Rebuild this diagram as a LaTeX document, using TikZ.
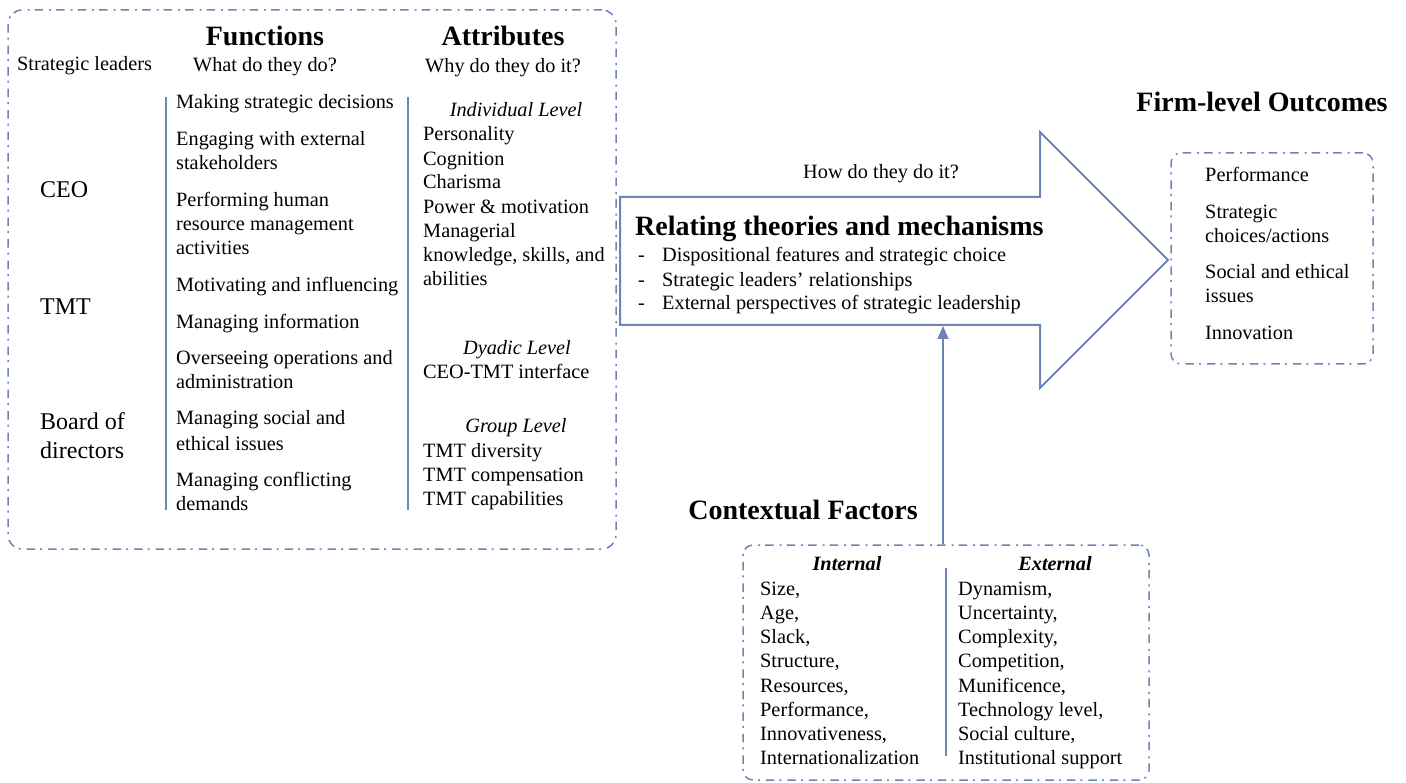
\documentclass[tikz,border=0pt]{standalone}
\usepackage{fontspec}
\setmainfont{Liberation Serif}
\usetikzlibrary{arrows.meta}
\definecolor{lineblue}{RGB}{110,132,182}
\tikzset{
  dashdot/.style={draw=lineblue, line width=1.5pt, dash pattern=on 8.5pt off 5pt on 2pt off 6pt},
  dbox/.style={dashdot, rounded corners=14pt, inner sep=0pt},
  txt/.style={anchor=base west, inner sep=0pt, font=\fontsize{20.3}{24}\selectfont},
  ctxt/.style={anchor=base, inner sep=0pt, font=\fontsize{20.3}{24}\selectfont},
  itl/.style={anchor=base, inner sep=0pt, font=\fontsize{20.3}{24}\selectfont\itshape},
  bitl/.style={anchor=base, inner sep=0pt, font=\fontsize{20.3}{24}\selectfont\bfseries\itshape},
  ldr/.style={anchor=base west, inner sep=0pt, font=\fontsize{24}{28}\selectfont},
  ttl/.style={anchor=base, inner sep=0pt, font=\fontsize{28}{32}\selectfont\bfseries},
  sep/.style={draw=lineblue, line width=1.2pt},
  arr/.style={draw=lineblue, line width=2pt, line join=miter},
}
\begin{document}
\begin{tikzpicture}[x=1pt,y=-1pt]
\useasboundingbox (0,0) rectangle (1406,783);
% ---- left big box
\node[dbox, minimum width=608pt, minimum height=539pt] (leftbox) at (312,279.5) {};
\node[ttl] (fun) at (265,46) {Functions};
\node[ttl] (att) at (503,46) {Attributes};
\node[txt] (sl) at (17,71) {Strategic leaders};
\node[ctxt] (wdo) at (265,72) {What do they do?};
\node[ctxt] (why) at (503,73) {Why do they do it?};
\draw[sep] (166,97) coordinate (s1a) -- (166,510) coordinate (s1b);
\draw[sep] (408,97) coordinate (s2a) -- (408,510) coordinate (s2b);
% leaders
\node[ldr] (ceo) at (40,198) {CEO};
\node[ldr] (tmt) at (40,315) {TMT};
\node[ldr] (bod1) at (40,430) {Board of};
\node[ldr] (bod2) at (40,459) {directors};
% functions
\node[txt] (f1) at (176,109) {Making strategic decisions};
\node[txt] (f2a) at (176,146) {Engaging with external};
\node[txt] (f2b) at (176,170) {stakeholders};
\node[txt] (f3a) at (176,207) {Performing human};
\node[txt] (f3b) at (176,231) {resource management};
\node[txt] (f3c) at (176,255) {activities};
\node[txt] (f4) at (176,292) {Motivating and influencing};
\node[txt] (f5) at (176,329) {Managing information};
\node[txt] (f6a) at (176,365) {Overseeing operations and};
\node[txt] (f6b) at (176,389) {administration};
\node[txt] (f7a) at (176,425) {Managing social and};
\node[txt] (f7b) at (176,450) {ethical issues};
\node[txt] (f8a) at (176,486) {Managing conflicting};
\node[txt] (f8b) at (176,510) {demands};
% attributes
\node[itl] (il) at (516,117) {Individual Level};
\node[txt] (a1) at (423,141) {Personality};
\node[txt] (a2) at (423,166) {Cognition};
\node[txt] (a3) at (423,189) {Charisma};
\node[txt] (a4) at (423,214) {Power \& motivation};
\node[txt] (a5) at (423,238) {Managerial};
\node[txt] (a6) at (423,262) {knowledge, skills, and};
\node[txt] (a7) at (423,286) {abilities};
\node[itl] (dl) at (517,355) {Dyadic Level};
\node[txt] (a8) at (423,379) {CEO-TMT interface};
\node[itl] (gl) at (516,433) {Group Level};
\node[txt] (a9) at (423,457) {TMT diversity};
\node[txt] (a10) at (423,481) {TMT compensation};
\node[txt] (a11) at (423,505) {TMT capabilities};
% ---- block arrow
\draw[arr] (620,197) -- (1040,197) -- (1040,132) -- (1168,260) -- (1040,388) -- (1040,325) -- (620,325) -- cycle;
\coordinate (arrbot) at (943,326);
\node[ctxt] (how) at (881,179) {How do they do it?};
\node[ttl, anchor=base west] (rel) at (635,236) {Relating theories and mechanisms};
\node[txt] (d1) at (638,262) {-};
\node[txt] (m1) at (662,262) {Dispositional features and strategic choice};
\node[txt] (d2) at (638,287) {-};
\node[txt] (m2) at (662,287) {Strategic leaders’ relationships};
\node[txt] (d3) at (638,310) {-};
\node[txt] (m3) at (662,310) {External perspectives of strategic leadership};
% ---- outcomes
\node[ttl] (fo) at (1262,112) {Firm-level Outcomes};
\node[dbox, rounded corners=10pt, minimum width=202pt, minimum height=211pt] (outbox) at (1272,258.5) {};
\node[txt] (o1) at (1205,182) {Performance};
\node[txt] (o2a) at (1205,219) {Strategic};
\node[txt] (o2b) at (1205,243) {choices/actions};
\node[txt] (o3a) at (1205,279) {Social and ethical};
\node[txt] (o3b) at (1205,303) {issues};
\node[txt] (o4) at (1205,340) {Innovation};
% ---- contextual factors
\node[ttl] (cf) at (803,519) {Contextual Factors};
\node[dbox, rounded corners=10pt, minimum width=406pt, minimum height=235pt] (ctx) at (946,662.5) {};
\draw[arr, line width=1.6pt, -{Triangle[width=11pt,length=13pt]}] (ctx.north -| arrbot) -- (arrbot);
\draw[sep] (946,568) coordinate (s3a) -- (946,756) coordinate (s3b);
\node[bitl] (int) at (847,570) {Internal};
\node[bitl] (ext) at (1055,570) {External};
\node[txt] (i1) at (760,595) {Size,};
\node[txt] (i2) at (760,619) {Age,};
\node[txt] (i3) at (760,643) {Slack,};
\node[txt] (i4) at (760,667) {Structure,};
\node[txt] (i5) at (760,692) {Resources,};
\node[txt] (i6) at (760,716) {Performance,};
\node[txt] (i7) at (760,740) {Innovativeness,};
\node[txt] (i8) at (760,764) {Internationalization};
\node[txt] (e1) at (958,595) {Dynamism,};
\node[txt] (e2) at (958,619) {Uncertainty,};
\node[txt] (e3) at (958,643) {Complexity,};
\node[txt] (e4) at (958,667) {Competition,};
\node[txt] (e5) at (958,692) {Munificence,};
\node[txt] (e6) at (958,716) {Technology level,};
\node[txt] (e7) at (958,740) {Social culture,};
\node[txt] (e8) at (958,764) {Institutional support};
\end{tikzpicture}
\end{document}
